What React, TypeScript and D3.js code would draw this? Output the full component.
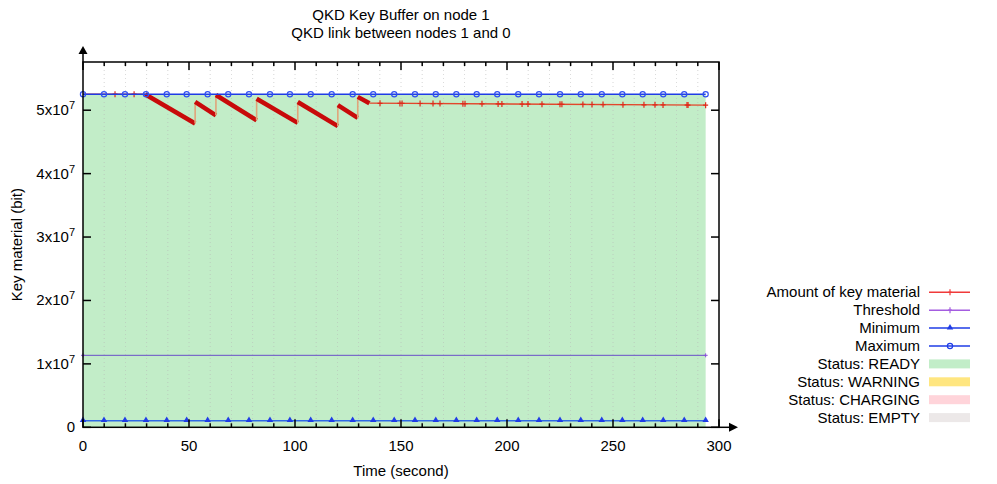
import React, { useEffect, useRef } from 'react';
import * as d3 from 'd3';

const titleLines = ['QKD Key Buffer on node 1', 'QKD link between nodes 1 and 0'];
const xLabel = 'Time (second)';
const yLabel = 'Key material (bit)';
const xTicks = [0, 50, 100, 150, 200, 250, 300];
const xMinorTicks = [10, 20, 30, 40, 60, 70, 80, 90, 110, 120, 130, 140, 160, 170, 180, 190, 210, 220, 230, 240, 260, 270, 280, 290];
const yTicks = [0, 1, 2, 3, 4, 5];

// times at which gnuplot drew the point markers of the min / max series
const sampleTimes = [0, 9.9, 19.8, 29.7, 39.5, 48.9, 58.8, 68.5, 78.3, 88.2, 97.6, 107.4, 117.3, 127.2, 136.9, 146.8, 156.6, 166.4, 176.1, 185.7, 195.4, 205.3, 215.1, 225.0, 234.8, 244.7, 254.4, 264.0, 273.7, 283.6, 293.7];
const maximumLevel = 5.252e7;
const minimumLevel = 1.04e6;
const thresholdLevel = 1.135e7;
const thresholdTimes = [0, 293.7];

// key material: vertices of the line
const keyTimes = [0, 29.3, 52.9, 52.9, 62.7, 62.7, 81.9, 81.9, 101.3, 101.3, 120.2, 120.2, 129.6, 129.6, 135.1, 293.7];
const keyValues = [5.252e7, 5.252e7, 4.79e7, 5.13e7, 4.92e7, 5.24e7, 4.84e7, 5.18e7, 4.8e7, 5.13e7, 4.75e7, 5.08e7, 4.88e7, 5.21e7, 5.11e7, 5.08e7];
// kind of each segment between two vertices
const keySegments = ['flat', 'burst', 'jump', 'burst', 'jump', 'burst', 'jump', 'burst', 'jump', 'burst', 'jump', 'burst', 'jump', 'burst', 'flat'];
// isolated '+' markers on the quiet parts of the line
const keyMarkerTimes = [15.1, 24.1, 140.1, 149.5, 150.5, 159.0, 165.1, 168.4, 179.2, 180.2, 188.2, 195.8, 197.6, 207.1, 209.9, 216.5, 225.0, 225.9, 235.8, 240.1, 245.3, 254.7, 264.6, 269.8, 273.6, 284.9, 285.4, 293.7];

const legendLabels = ['Amount of key material', 'Threshold', 'Minimum', 'Maximum', 'Status: READY', 'Status: WARNING', 'Status: CHARGING', 'Status: EMPTY'];
const legendColors = ['#f03a3a', '#a45ce0', '#1f3ce6', '#1f3ce6', '#c2edc8', '#ffe680', '#ffd4da', '#ece8e8'];
const legendKinds = ['plus', 'plus', 'triangle', 'circle', 'box', 'box', 'box', 'box'];

function App() {
  const svgRef = useRef(null);

  useEffect(() => {
    const svg = d3.select(svgRef.current);
    svg.selectAll('*').remove();

    const font = '"Liberation Sans", Arial, sans-serif';
    const left = 83, right = 719, top = 62, bottom = 427.3;

    const x = d3.scaleLinear().domain([0, 300]).range([left, right]);
    const y = d3.scaleLinear().domain([0, 5.76e7]).range([bottom, top]);

    // READY status fill
    const tEnd = d3.max(sampleTimes);
    svg.append('rect')
      .attr('x', x(0)).attr('y', y(maximumLevel))
      .attr('width', x(tEnd) - x(0)).attr('height', y(0) - y(maximumLevel))
      .attr('fill', legendColors[4]);

    // dotted grid
    svg.append('g').selectAll('line')
      .data(xMinorTicks.concat(xTicks.slice(1, -1)))
      .enter().append('line')
      .attr('x1', (d) => x(d)).attr('x2', (d) => x(d))
      .attr('y1', top).attr('y2', bottom)
      .attr('stroke', '#b8b8b8').attr('stroke-width', 0.8)
      .attr('stroke-dasharray', '1,3').attr('opacity', 0.7);

    // minimum
    svg.append('line')
      .attr('x1', x(0)).attr('x2', x(tEnd))
      .attr('y1', y(minimumLevel)).attr('y2', y(minimumLevel))
      .attr('stroke', '#2f6ae6').attr('stroke-width', 1.5);
    const tri = d3.symbol().type(d3.symbolTriangle).size(18);
    svg.append('g').selectAll('path')
      .data(sampleTimes).enter().append('path')
      .attr('d', tri)
      .attr('transform', (d) => `translate(${x(d)},${y(minimumLevel) - 0.5})`)
      .attr('fill', '#1f3ce6');

    // threshold
    svg.append('line')
      .attr('x1', x(thresholdTimes[0])).attr('x2', x(thresholdTimes[1]))
      .attr('y1', y(thresholdLevel)).attr('y2', y(thresholdLevel))
      .attr('stroke', '#6a4fc8').attr('stroke-width', 1);
    svg.append('g').selectAll('path')
      .data(thresholdTimes).enter().append('path')
      .attr('d', (d) => `M${x(d) - 2},${y(thresholdLevel)}h4M${x(d)},${y(thresholdLevel) - 2}v4`)
      .attr('stroke', '#8a50d8').attr('stroke-width', 1);

    // key material line
    const seg = svg.append('g');
    keySegments.forEach((kind, i) => {
      const p = seg.append('line')
        .attr('x1', x(keyTimes[i])).attr('y1', y(keyValues[i]))
        .attr('x2', x(keyTimes[i + 1])).attr('y2', y(keyValues[i + 1]));
      if (kind === 'burst') {
        p.attr('stroke', '#c80a0a').attr('stroke-width', 4.5);
      } else if (kind === 'jump') {
        p.attr('stroke', '#e0a47a').attr('stroke-width', 1.6);
      } else {
        p.attr('stroke', '#e2472c').attr('stroke-width', 1.3);
      }
    });
    const keyAt = (t) => {
      const i = Math.max(0, d3.bisectRight(keyTimes, t) - 1);
      const j = Math.min(keyTimes.length - 1, i + 1);
      if (keyTimes[j] === keyTimes[i]) return keyValues[i];
      return keyValues[i] + (keyValues[j] - keyValues[i]) * (t - keyTimes[i]) / (keyTimes[j] - keyTimes[i]);
    };
    svg.append('g').selectAll('path')
      .data(keyMarkerTimes).enter().append('path')
      .attr('d', (d) => `M${x(d) - 2.5},${y(keyAt(d))}h5M${x(d)},${y(keyAt(d)) - 3}v6`)
      .attr('stroke', '#e02a1a').attr('stroke-width', 1.2);

    // maximum
    svg.append('line')
      .attr('x1', x(0)).attr('x2', x(tEnd))
      .attr('y1', y(maximumLevel)).attr('y2', y(maximumLevel))
      .attr('stroke', '#1f3ce6').attr('stroke-width', 1.5);
    svg.append('g').selectAll('circle')
      .data(sampleTimes).enter().append('circle')
      .attr('cx', (d) => x(d)).attr('cy', y(maximumLevel)).attr('r', 2.6)
      .attr('fill', 'none').attr('stroke', '#3050f0').attr('stroke-width', 1.2);

    // border and ticks
    svg.append('rect')
      .attr('x', left).attr('y', top).attr('width', right - left).attr('height', bottom - top)
      .attr('fill', 'none').attr('stroke', '#000').attr('stroke-width', 1.5);
    const tk = svg.append('g').attr('stroke', '#000').attr('stroke-width', 1.5);
    xTicks.forEach((t) => {
      tk.append('line').attr('x1', x(t)).attr('x2', x(t)).attr('y1', bottom).attr('y2', bottom - 8);
      tk.append('line').attr('x1', x(t)).attr('x2', x(t)).attr('y1', top).attr('y2', top + 8);
    });
    xMinorTicks.forEach((t) => {
      tk.append('line').attr('x1', x(t)).attr('x2', x(t)).attr('y1', bottom).attr('y2', bottom - 4);
      tk.append('line').attr('x1', x(t)).attr('x2', x(t)).attr('y1', top).attr('y2', top + 4);
    });
    yTicks.forEach((v) => {
      tk.append('line').attr('x1', left).attr('x2', left + 8).attr('y1', y(v * 1e7)).attr('y2', y(v * 1e7));
      tk.append('line').attr('x1', right).attr('x2', right - 8).attr('y1', y(v * 1e7)).attr('y2', y(v * 1e7));
    });

    // axis arrows
    tk.append('line').attr('x1', left).attr('x2', left).attr('y1', top).attr('y2', 52);
    tk.append('line').attr('x1', right).attr('x2', 730).attr('y1', bottom).attr('y2', bottom);
    svg.append('path').attr('d', `M${left},46L${left - 4.5},54L${left + 4.5},54Z`).attr('fill', '#000');
    svg.append('path').attr('d', `M738,${bottom}L729,${bottom - 4.5}L729,${bottom + 4.5}Z`).attr('fill', '#000');

    // tick labels
    svg.append('g').selectAll('text')
      .data(xTicks).enter().append('text')
      .attr('x', (d) => x(d)).attr('y', 451)
      .attr('text-anchor', 'middle')
      .attr('font-family', font).attr('font-size', 15)
      .text((d) => d);
    yTicks.forEach((v) => {
      const t = svg.append('text')
        .attr('x', 75).attr('y', y(v * 1e7) + 5)
        .attr('text-anchor', 'end')
        .attr('font-family', font).attr('font-size', 15);
      if (v === 0) {
        t.text('0');
      } else {
        t.append('tspan').text(`${v}x10`);
        t.append('tspan').attr('dy', -6).attr('font-size', 11).text('7');
      }
    });

    // titles
    titleLines.forEach((s, i) => {
      svg.append('text')
        .attr('x', (left + right) / 2).attr('y', 20 + i * 18)
        .attr('text-anchor', 'middle')
        .attr('font-family', font).attr('font-size', 15)
        .text(s);
    });
    svg.append('text')
      .attr('x', (left + right) / 2).attr('y', 476)
      .attr('text-anchor', 'middle')
      .attr('font-family', font).attr('font-size', 15)
      .text(xLabel);
    svg.append('text')
      .attr('transform', `translate(22,${(top + bottom) / 2}) rotate(-90)`)
      .attr('text-anchor', 'middle')
      .attr('font-family', font).attr('font-size', 15)
      .text(yLabel);

    // legend
    const lg = svg.append('g');
    legendLabels.forEach((label, i) => {
      const cy = 292.3 + i * 17.9;
      lg.append('text')
        .attr('x', 920).attr('y', cy + 5)
        .attr('text-anchor', 'end')
        .attr('font-family', font).attr('font-size', 15)
        .text(label);
      const kind = legendKinds[i];
      const c = legendColors[i];
      if (kind === 'box') {
        lg.append('rect').attr('x', 929).attr('y', cy - 4.5).attr('width', 41).attr('height', 9).attr('fill', c);
        return;
      }
      lg.append('line').attr('x1', 929).attr('x2', 970).attr('y1', cy).attr('y2', cy)
        .attr('stroke', c).attr('stroke-width', 1.5);
      if (kind === 'plus') {
        lg.append('path').attr('d', `M948,${cy}h4M950,${cy - 3}v6`).attr('stroke', c).attr('stroke-width', 1.2);
      } else if (kind === 'triangle') {
        lg.append('path').attr('d', tri).attr('transform', `translate(950,${cy - 0.5})`).attr('fill', c);
      } else {
        lg.append('circle').attr('cx', 950).attr('cy', cy).attr('r', 2.6)
          .attr('fill', 'none').attr('stroke', c).attr('stroke-width', 1.2);
      }
    });
  }, []);

  return (
    <svg ref={svgRef} width="997" height="484" style={{ position: 'absolute', left: 0, top: 0, background: '#fff' }} />
  );
}

export default App;
